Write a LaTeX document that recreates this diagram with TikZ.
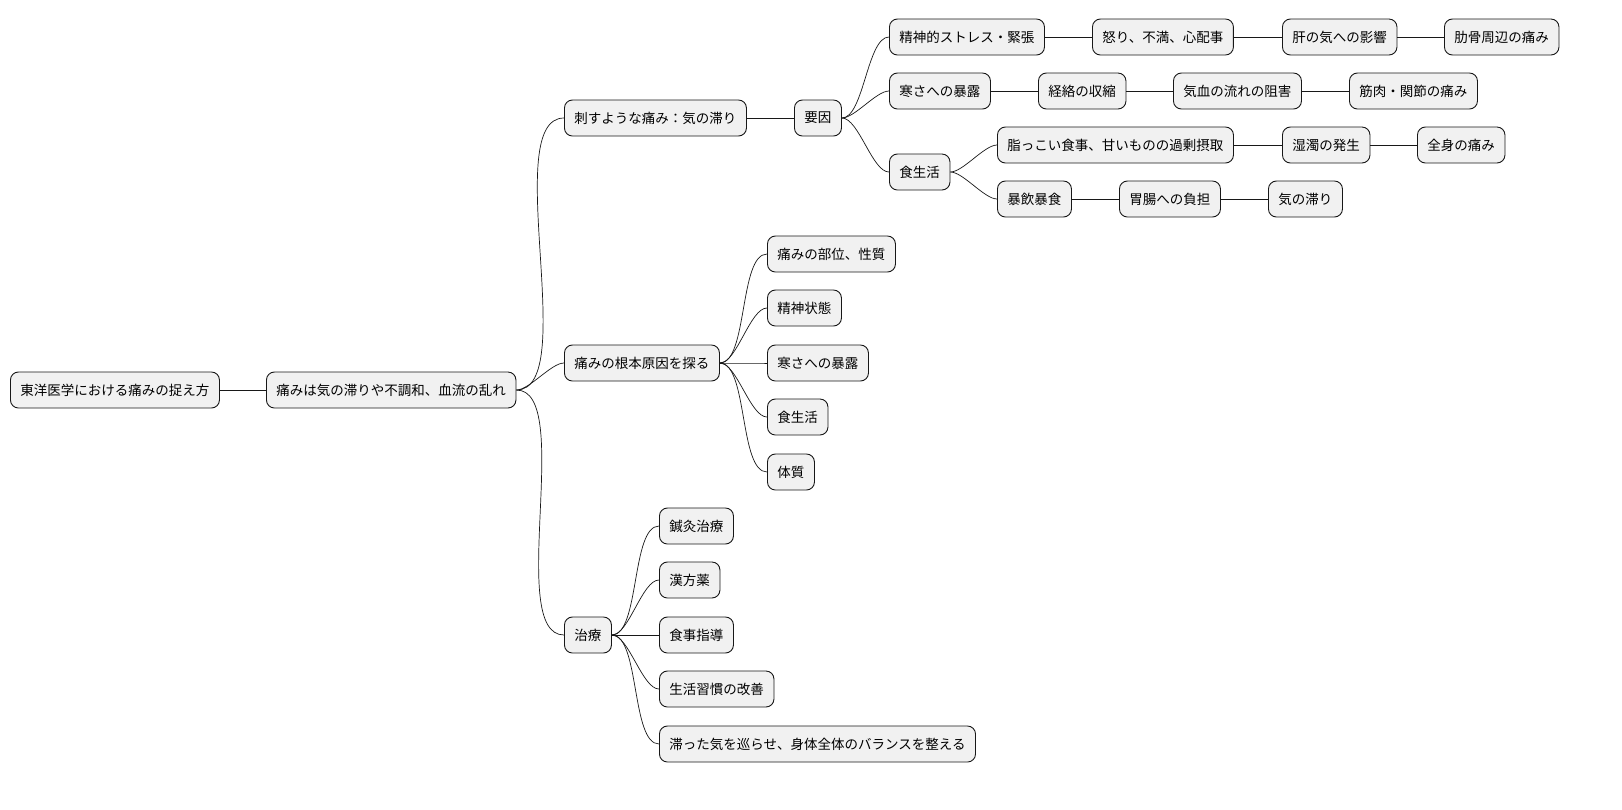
\documentclass[tikz,border=0pt]{standalone}
\usepackage{fontspec}
\setmainfont{Noto Sans CJK JP}
\definecolor{nf}{HTML}{F1F1F1}
\definecolor{nd}{HTML}{181818}
\begin{document}
\begin{tikzpicture}[x=1pt,y=-1pt,
  mm/.style={draw=nd,fill=nf,rounded corners=8pt,line width=0.9pt,anchor=west,minimum height=36,inner xsep=10,font=\fontsize{13.5}{15}\selectfont},
  ln/.style={draw=nd,line width=0.7pt},
  cv/.style={ln,out=0,in=180,looseness=0.6}]
\useasboundingbox (0,0) rectangle (1622,809);
\node[mm] (r) at (10,390) {東洋医学における痛みの捉え方};
\node[mm] (n1) at (266,390) {痛みは気の滞りや不調和、血流の乱れ};
\node[mm] (a) at (564,118) {刺すような痛み：気の滞り};
\node[mm] (b) at (564,363) {痛みの根本原因を探る};
\node[mm] (c) at (564,635) {治療};
\node[mm] (y) at (794,118) {要因};
\node[mm] (s1) at (889,37) {精神的ストレス・緊張};
\node[mm] (s2) at (1092,37) {怒り、不満、心配事};
\node[mm] (s3) at (1282,37) {肝の気への影響};
\node[mm] (s4) at (1444,37) {肋骨周辺の痛み};
\node[mm] (k1) at (889,91) {寒さへの暴露};
\node[mm] (k2) at (1038,91) {経絡の収縮};
\node[mm] (k3) at (1173,91) {気血の流れの阻害};
\node[mm] (k4) at (1349,91) {筋肉・関節の痛み};
\node[mm] (f) at (889,172) {食生活};
\node[mm] (f1) at (997,145) {脂っこい食事、甘いものの過剰摂取};
\node[mm] (f2) at (1282,145) {湿濁の発生};
\node[mm] (f3) at (1417,145) {全身の痛み};
\node[mm] (g1) at (997,199) {暴飲暴食};
\node[mm] (g2) at (1119,199) {胃腸への負担};
\node[mm] (g3) at (1268,199) {気の滞り};
\node[mm] (b1) at (767,254) {痛みの部位、性質};
\node[mm] (b2) at (767,308) {精神状態};
\node[mm] (b3) at (767,363) {寒さへの暴露};
\node[mm] (b4) at (767,417) {食生活};
\node[mm] (b5) at (767,472) {体質};
\node[mm] (c1) at (659,526) {鍼灸治療};
\node[mm] (c2) at (659,580) {漢方薬};
\node[mm] (c3) at (659,635) {食事指導};
\node[mm] (c4) at (659,689) {生活習慣の改善};
\node[mm] (c5) at (659,744) {滞った気を巡らせ、身体全体のバランスを整える};
\draw[ln] (r) -- (n1);
\foreach \t in {a,b,c} \draw[cv] (n1.east) to (\t.west);
\draw[ln] (a) -- (y);
\foreach \t in {s1,k1,f} \draw[cv] (y.east) to (\t.west);
\draw[ln] (s1)--(s2) (s2)--(s3) (s3)--(s4);
\draw[ln] (k1)--(k2) (k2)--(k3) (k3)--(k4);
\foreach \t in {f1,g1} \draw[cv] (f.east) to (\t.west);
\draw[ln] (f1)--(f2) (f2)--(f3) (g1)--(g2) (g2)--(g3);
\foreach \t in {b1,b2,b3,b4,b5} \draw[cv] (b.east) to (\t.west);
\foreach \t in {c1,c2,c3,c4,c5} \draw[cv] (c.east) to (\t.west);
\end{tikzpicture}
\end{document}
